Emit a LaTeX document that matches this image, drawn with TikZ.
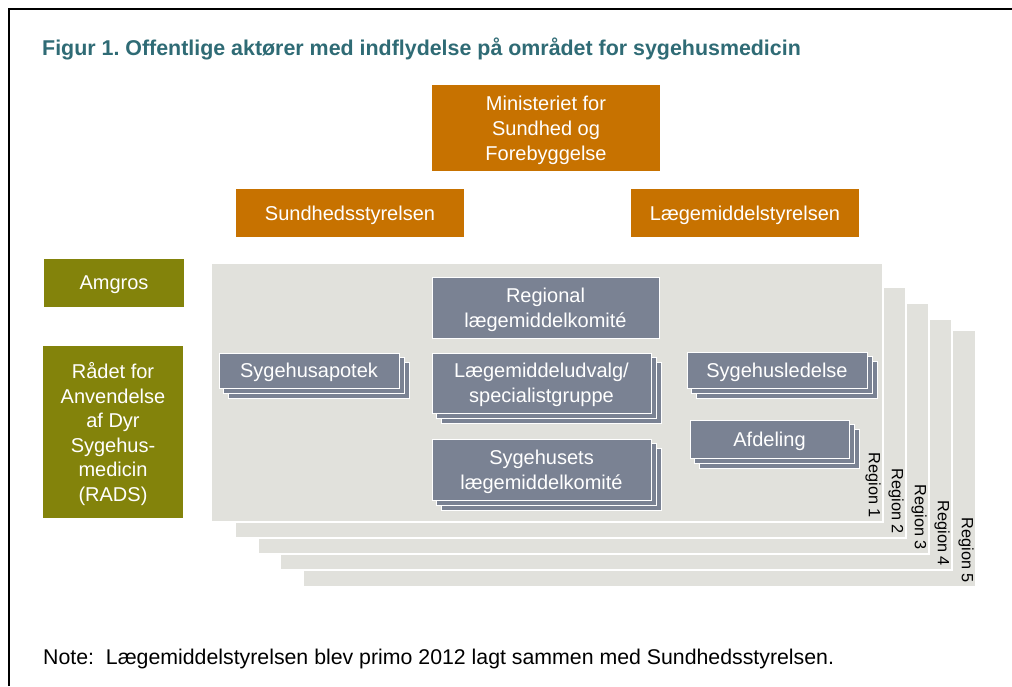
\documentclass[tikz,border=0pt]{standalone}
\usepackage{fontspec}
\setmainfont{Liberation Sans}
\frenchspacing
\definecolor{orangebox}{RGB}{199,114,0}
\definecolor{olivebox}{RGB}{131,131,11}
\definecolor{slatebox}{RGB}{122,130,147}
\definecolor{panelfill}{RGB}{225,225,220}
\definecolor{titleteal}{RGB}{47,107,117}
\pgfdeclarelayer{panels}
\pgfdeclarelayer{stacks}
\pgfsetlayers{panels,stacks,main}
\newcommand{\stacklayers}[1]{%
  \begin{pgfonlayer}{stacks}
    \foreach \d in {9.5,4.75}{%
      \draw[gbackbox] ([shift={(\d,\d)}]#1.north west) rectangle ([shift={(\d,\d)}]#1.south east);}
  \end{pgfonlayer}}
\begin{document}
\begin{tikzpicture}[x=1pt,y=-1pt,
  boxtext/.style={text=white, font=\fontsize{20}{25}\selectfont, align=center, inner sep=0pt, text depth=0pt},
  obox/.style={boxtext, fill=orangebox},
  olbox/.style={boxtext, fill=olivebox, font=\fontsize{20}{24.5}\selectfont},
  gbox/.style={boxtext, fill=slatebox, draw=white, line width=1pt},
  gbackbox/.style={fill=slatebox, draw=white, line width=1pt},
  panel/.style={fill=panelfill, draw=white, line width=1.3pt},
  reglabel/.style={rotate=-90, anchor=east, inner sep=0pt, font=\fontsize{16.3}{18}\selectfont}]
\useasboundingbox (0,0) rectangle (1012,686);
% region panels
\begin{pgfonlayer}{panels}
\fill[white] (0,0) rectangle (1012,686);
\foreach \xa/\ya/\xb/\yb/\n in {303/330/976/587/5, 280/319/952/570/4, 258/303/929/554/3, 235/287/906/538/2, 211/263/883/522/1}{
  \draw[panel] (\xa,\ya) rectangle (\xb,\yb);
  \node[reglabel] (reg\n) at ({\xb-10},{\yb-4}) {Region \n};
}
\end{pgfonlayer}
% frame
\draw[line width=2.2pt] (9,686) -- (9,9) -- (1012,9);
% title
\node[anchor=base west, inner sep=0pt, text=titleteal, font=\fontsize{21.4}{25}\selectfont\bfseries] (title) at (42,55)
  {Figur 1. Offentlige aktører med indflydelse på området for sygehusmedicin};
% orange boxes
\node[obox, minimum width=228pt, minimum height=86pt] (min) at (546,128) {Ministeriet for\\Sundhed og\\Forebyggelse};
\node[obox, minimum width=228pt, minimum height=48pt] (sst) at (350,213) {Sundhedsstyrelsen};
\node[obox, minimum width=228pt, minimum height=48pt] (lms) at (745,213) {Lægemiddelstyrelsen};
% olive boxes
\node[olbox, minimum width=140pt, minimum height=48pt] (amgros) at (114,283) {Amgros};
\node[olbox, minimum width=140pt, minimum height=172pt] (rads) at (113,432) {Rådet for\\Anvendelse\\af Dyr\\Sygehus-\\medicin\\(RADS)};
% slate boxes
\node[gbox, minimum width=227pt, minimum height=61pt] (regkom) at (545.5,307.5) {Regional\\lægemiddelkomité};
\node[gbox, minimum width=180pt, minimum height=35pt] (apotek) at (309,370.5) {Sygehusapotek};
\stacklayers{apotek}
\node[gbox, minimum width=219pt, minimum height=60pt] (udvalg) at (541.5,383) {Lægemiddeludvalg/\\specialistgruppe};
\stacklayers{udvalg}
\node[gbox, minimum width=219pt, minimum height=61pt] (sygkom) at (541.5,469.5) {Sygehusets\\lægemiddelkomité};
\stacklayers{sygkom}
\node[gbox, minimum width=180pt, minimum height=36pt] (ledelse) at (777,370) {Sygehusledelse};
\stacklayers{ledelse}
\node[gbox, minimum width=159pt, minimum height=38pt] (afdeling) at (769.5,439) {Afdeling};
\stacklayers{afdeling}
% note
\node[anchor=base west, inner sep=0pt, font=\fontsize{21.3}{25}\selectfont] (note) at (43,664)
  {Note:\ \ Lægemiddelstyrelsen blev primo 2012 lagt sammen med Sundhedsstyrelsen.};
\end{tikzpicture}
\end{document}
